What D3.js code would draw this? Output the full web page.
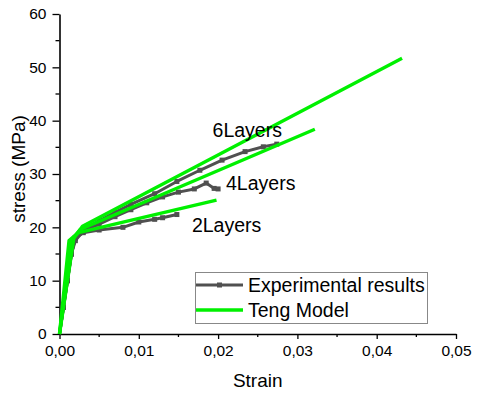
<!DOCTYPE html>
<html>
<head>
<meta charset="utf-8">
<script src="https://cdn.jsdelivr.net/npm/d3@7"></script>
<style>
  body { margin: 0; background: #fff; }
  svg { font-family: "Liberation Sans", Arial, sans-serif; }
</style>
</head>
<body>
<svg width="477" height="394"></svg>
<script>
// experimental curves [strain, stress]
var exp2 = [[0,0],[0.0005,5],[0.001,10],[0.0015,15],[0.002,18],[0.003,19],[0.005,19.5],[0.008,20.0],[0.010,21.0],[0.012,21.5],[0.013,21.8],[0.0148,22.4]];
var exp4 = [[0,0],[0.0005,5],[0.001,10],[0.0015,15],[0.002,17.5],[0.003,19.3],[0.005,20.6],[0.007,22.0],[0.009,23.3],[0.011,24.6],[0.013,25.7],[0.015,26.6],[0.017,27.2],[0.0185,28.3],[0.0195,27.3],[0.0200,27.2]];
var exp6 = [[0,0],[0.0005,5],[0.001,10],[0.0015,15],[0.002,18],[0.003,19.6],[0.005,21.2],[0.007,22.8],[0.009,24.3],[0.012,26.3],[0.0148,28.6],[0.0177,30.7],[0.0205,32.6],[0.0234,34.2],[0.0257,35.1],[0.0274,35.6]];
// Teng model curves
var teng2 = [[0,0],[0.0012,17.5],[0.0024,19.0],[0.0198,25.1]];
var teng4 = [[0,0],[0.0015,17.6],[0.0026,19.6],[0.0322,38.4]];
var teng6 = [[0,0],[0.0018,17.9],[0.0029,20.2],[0.0432,51.7]];

var layerLabels = ["2Layers", "4Layers", "6Layers"];
var labelPos = [[0.0167, 19.1], [0.0210, 27.0], [0.0193, 36.9]];
var legendNames = ["Experimental results", "Teng Model"];

var xTicks = [0, 0.01, 0.02, 0.03, 0.04, 0.05];
var yTicks = [0, 10, 20, 30, 40, 50, 60];

var expColor = "#505050";
var tengColor = "#00f000";

const svg = d3.select('svg');
const margin = {left: 59.5, right: 21, top: 14, bottom: 60};
const width = 477, height = 394;

const x = d3.scaleLinear().domain([0, 0.05]).range([margin.left, width - margin.right]);
const y = d3.scaleLinear().domain([0, 60]).range([height - margin.bottom, margin.top]);

const fmt = d => d3.format(".2f")(d).replace(".", ",");

// minor ticks
svg.append("g").selectAll("line")
    .data(d3.range(0.005, 0.05, 0.01))
    .join("line")
    .attr("x1", d => x(d)).attr("x2", d => x(d))
    .attr("y1", y(0)).attr("y2", y(0) + 3)
    .attr("stroke", "#000").attr("stroke-width", 1.3);
svg.append("g").selectAll("line")
    .data(d3.range(5, 60, 10))
    .join("line")
    .attr("y1", d => y(d)).attr("y2", d => y(d))
    .attr("x1", x(0)).attr("x2", x(0) - 4)
    .attr("stroke", "#000").attr("stroke-width", 1.3);

const xAxis = svg.append("g")
    .attr("transform", `translate(0,${y(0)})`)
    .call(d3.axisBottom(x).tickValues(xTicks).tickFormat(fmt).tickSize(5).tickPadding(6).tickSizeOuter(0));
const yAxis = svg.append("g")
    .attr("transform", `translate(${x(0)},0)`)
    .call(d3.axisLeft(y).tickValues(yTicks).tickSize(7).tickPadding(6).tickSizeOuter(0));

[xAxis, yAxis].forEach(a => {
    a.select(".domain").attr("stroke-width", 1.6);
    a.selectAll(".tick line").attr("stroke-width", 1.3);
    a.selectAll("text").attr("font-size", 15.5).attr("fill", "#000")
        .attr("font-family", "Liberation Sans, Arial, sans-serif");
});

// axis titles
svg.append("text")
    .attr("x", (x(0) + x(0.05)) / 2).attr("y", 387)
    .attr("text-anchor", "middle").attr("font-size", 19)
    .text("Strain");
svg.append("text")
    .attr("transform", `translate(25,${(y(0) + y(60)) / 2 - 5}) rotate(-90)`)
    .attr("text-anchor", "middle").attr("font-size", 19)
    .text("stress (MPa)");

const line = d3.line().x(d => x(d[0])).y(d => y(d[1]));

// experimental
[exp2, exp4, exp6].forEach(s => {
    svg.append("path").datum(s)
        .attr("d", line).attr("fill", "none")
        .attr("stroke", expColor).attr("stroke-width", 3)
        .attr("stroke-linejoin", "round");
    svg.append("g").selectAll("rect")
        .data(s.slice(1))
        .join("rect")
        .attr("x", d => x(d[0]) - 2.5).attr("y", d => y(d[1]) - 2.5)
        .attr("width", 5).attr("height", 5)
        .attr("fill", expColor);
});

// Teng model
[teng2, teng4, teng6].forEach(s => {
    svg.append("path").datum(s)
        .attr("d", line).attr("fill", "none")
        .attr("stroke", tengColor).attr("stroke-width", 3.4)
        .attr("stroke-linejoin", "round");
});

// layer labels
svg.append("g").selectAll("text")
    .data(layerLabels)
    .join("text")
    .attr("x", (d, i) => x(labelPos[i][0]))
    .attr("y", (d, i) => y(labelPos[i][1]))
    .attr("font-size", 19.5)
    .text(d => d);

// legend
const lg = svg.append("g");
lg.append("rect")
    .attr("x", 195.5).attr("y", 272.5).attr("width", 232).attr("height", 51)
    .attr("fill", "#fff").attr("stroke", "#888").attr("stroke-width", 1);
lg.append("line")
    .attr("x1", 196).attr("x2", 243).attr("y1", 285).attr("y2", 285)
    .attr("stroke", expColor).attr("stroke-width", 3);
lg.append("rect")
    .attr("x", 217).attr("y", 282.5).attr("width", 5).attr("height", 5)
    .attr("fill", expColor);
lg.append("line")
    .attr("x1", 196).attr("x2", 243).attr("y1", 310).attr("y2", 310)
    .attr("stroke", tengColor).attr("stroke-width", 3.4);
lg.selectAll("text.lt")
    .data(legendNames)
    .join("text")
    .attr("class", "lt")
    .attr("x", 248).attr("y", (d, i) => 292 + i * 25)
    .attr("font-size", 19.5)
    .text(d => d);
</script>
</body>
</html>
